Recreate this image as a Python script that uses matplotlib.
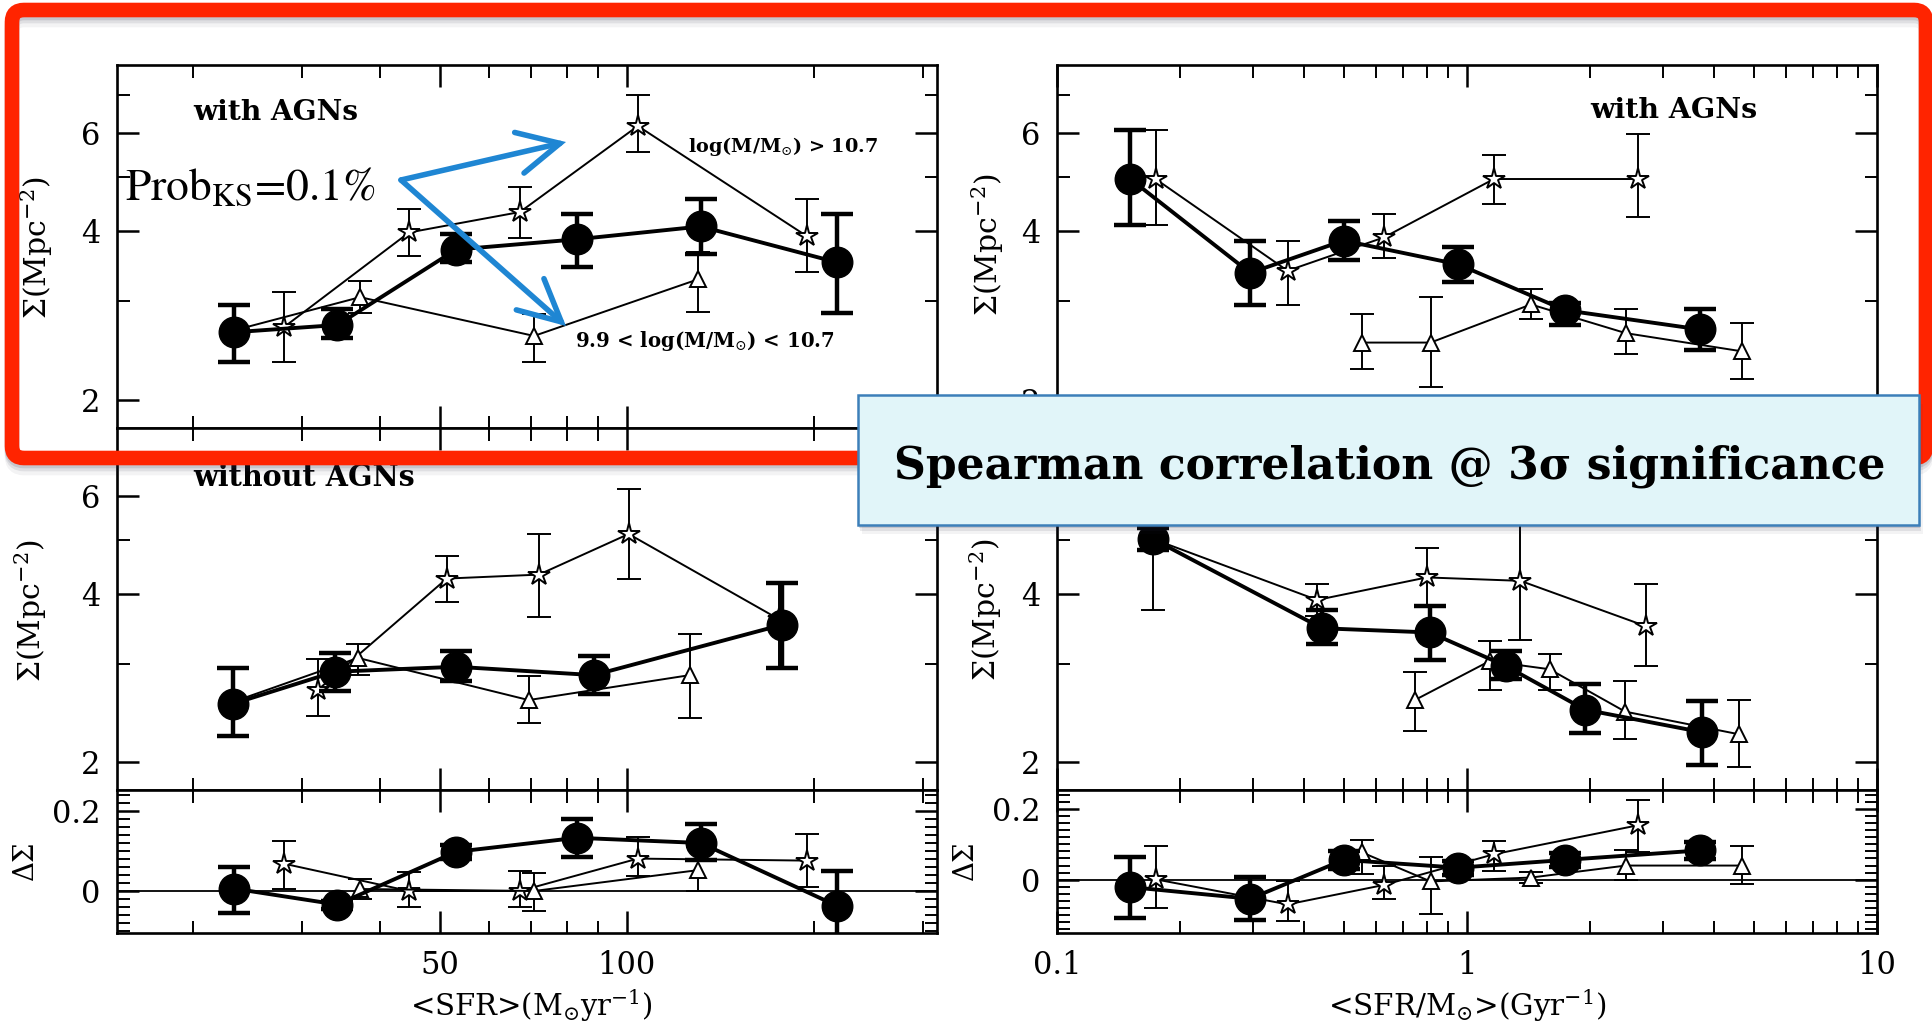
import numpy as np
import matplotlib
matplotlib.use('Agg')
import matplotlib.pyplot as plt
from matplotlib.ticker import FixedLocator, NullFormatter, FixedFormatter
from matplotlib.patches import FancyBboxPatch, FancyArrowPatch
from matplotlib.transforms import IdentityTransform

# ---------------- data: left column, <SFR> (Msun/yr) ----------------
# top panel: with AGNs
sfr_all_x = [23.3, 34.2, 53.1, 83.1, 131.6, 218.0]
sfr_all_y = [2.64, 2.72, 3.71, 3.87, 4.08, 3.52]
sfr_all_lo = [2.34, 2.58, 3.52, 3.46, 3.64, 2.86]
sfr_all_hi = [2.95, 2.90, 3.95, 4.30, 4.57, 4.30]

sfr_hi_x = [28.1, 44.6, 67.3, 104.2, 195.0]
sfr_hi_y = [2.70, 3.98, 4.33, 6.17, 3.92]
sfr_hi_lo = [2.34, 3.62, 3.89, 5.54, 3.38]
sfr_hi_hi = [3.11, 4.38, 4.80, 7.00, 4.57]

sfr_lo_x = [23.3, 37.2, 70.9, 130.0]
sfr_lo_y = [2.66, 3.05, 2.60, 3.28]
sfr_lo_lo = [2.66, 2.86, 2.34, 2.87]
sfr_lo_hi = [2.66, 3.26, 2.84, 3.67]

# middle panel: without AGNs
sfrn_all_x = [23.2, 33.9, 53.1, 88.5, 178.0]
sfrn_all_y = [2.54, 2.90, 2.96, 2.86, 3.52]
sfrn_all_lo = [2.22, 2.68, 2.79, 2.65, 2.94]
sfrn_all_hi = [2.94, 3.13, 3.16, 3.09, 4.18]

sfrn_hi_x = [31.8, 51.3, 72.2, 100.7, 176.0]
sfrn_hi_y = [2.69, 4.26, 4.33, 5.12, 3.60]
sfrn_hi_lo = [2.42, 3.86, 3.63, 4.26, 2.95]
sfrn_hi_hi = [3.06, 4.68, 5.13, 6.16, 4.18]

sfrn_lo_x = [23.2, 36.9, 69.5, 126.4]
sfrn_lo_y = [2.56, 3.07, 2.58, 2.86]
sfrn_lo_lo = [2.56, 2.86, 2.35, 2.40]
sfrn_lo_hi = [2.56, 3.25, 2.85, 3.39]

# bottom panel: Delta Sigma
dsfr_all_y = [0.006, -0.034, 0.098, 0.133, 0.120, -0.037]
dsfr_all_lo = [-0.055, -0.044, 0.080, 0.086, 0.078, -0.130]
dsfr_all_hi = [0.059, -0.024, 0.116, 0.179, 0.168, 0.050]
dsfr_hi_y = [0.068, 0.000, 0.000, 0.081, 0.076]
dsfr_hi_lo = [0.005, -0.039, -0.040, 0.038, 0.010]
dsfr_hi_hi = [0.126, 0.048, 0.050, 0.135, 0.143]
dsfr_lo_x = [37.2, 70.9, 130.0]
dsfr_lo_y = [0.005, 0.000, 0.052]
dsfr_lo_lo = [-0.020, -0.050, 0.000]
dsfr_lo_hi = [0.030, 0.045, 0.110]

# ---------------- data: right column, <SFR/M> (1/Gyr) ----------------
ssfr_all_x = [0.151, 0.296, 0.500, 0.953, 1.736, 3.71]
ssfr_all_y = [4.96, 3.37, 3.85, 3.49, 2.89, 2.67]
ssfr_all_lo = [4.10, 2.95, 3.56, 3.25, 2.72, 2.45]
ssfr_all_hi = [6.08, 3.84, 4.18, 3.75, 2.98, 2.91]

ssfr_hi_x = [0.174, 0.365, 0.627, 1.163, 2.61]
ssfr_hi_y = [4.96, 3.40, 3.90, 4.96, 4.96]
ssfr_hi_lo = [4.10, 2.95, 3.59, 4.48, 4.25]
ssfr_hi_hi = [6.08, 3.84, 4.29, 5.48, 5.97]

ssfr_lo_x = [0.555, 0.815, 1.432, 2.44, 4.69]
ssfr_lo_y = [2.53, 2.53, 2.96, 2.63, 2.44]
ssfr_lo_lo = [2.27, 2.11, 2.79, 2.41, 2.18]
ssfr_lo_hi = [2.84, 3.05, 3.16, 2.91, 2.74]

ssfrn_all_x = [0.171, 0.443, 0.812, 1.243, 1.94, 3.74]
ssfrn_all_y = [5.02, 3.47, 3.41, 2.97, 2.48, 2.26]
ssfrn_all_lo = [4.80, 3.25, 3.05, 2.82, 2.25, 1.97]
ssfrn_all_hi = [5.25, 3.74, 3.81, 3.16, 2.76, 2.57]

ssfrn_hi_x = [0.171, 0.431, 0.798, 1.35, 2.73]
ssfrn_hi_y = [5.02, 3.90, 4.28, 4.22, 3.50]
ssfrn_hi_lo = [3.74, 3.65, 3.79, 3.31, 2.97]
ssfrn_hi_hi = [6.30, 4.17, 4.84, 5.60, 4.17]

ssfrn_lo_x = [0.746, 1.135, 1.59, 2.43, 4.61]
ssfrn_lo_y = [2.58, 3.03, 2.93, 2.46, 2.24]
ssfrn_lo_lo = [2.27, 2.69, 2.69, 2.20, 1.96]
ssfrn_lo_hi = [2.90, 3.29, 3.12, 2.79, 2.58]

dssfr_all_y = [-0.021, -0.054, 0.056, 0.034, 0.056, 0.083]
dssfr_all_lo = [-0.109, -0.114, 0.030, 0.014, 0.036, 0.058]
dssfr_all_hi = [0.063, 0.009, 0.082, 0.054, 0.076, 0.108]
dssfr_hi_y = [0.001, -0.070, -0.015, 0.072, 0.154]
dssfr_hi_lo = [-0.079, -0.117, -0.054, 0.026, 0.077]
dssfr_hi_hi = [0.094, -0.005, 0.040, 0.110, 0.227]
dssfr_lo_y = [0.077, -0.005, 0.006, 0.040, 0.040]
dssfr_lo_lo = [0.017, -0.097, -0.009, -0.002, -0.013]
dssfr_lo_hi = [0.113, 0.063, 0.021, 0.083, 0.094]

# tick values / labels
sfr_major = [50, 100]
sfr_major_lab = ['50', '100']
sfr_minor = [20, 30, 40, 60, 70, 80, 90, 200, 300]
ssfr_major = [0.1, 1, 10]
ssfr_major_lab = ['0.1', '1', '10']
ssfr_minor = [0.2, 0.3, 0.4, 0.5, 0.6, 0.7, 0.8, 0.9, 2, 3, 4, 5, 6, 7, 8, 9]
sig_major = [2, 4, 6]
sig_major_lab = ['2', '4', '6']
sig_minor = [3, 5, 7]
d_major = [0, 0.2]
d_major_lab = ['0', '0.2']
d_minor = [-0.14, -0.12, -0.10, -0.08, -0.06, -0.04, -0.02, 0.02, 0.04, 0.06,
           0.08, 0.10, 0.12, 0.14, 0.16, 0.18, 0.22, 0.24]

# ---------------- figure ----------------
W, H = 1933, 1030
plt.rcParams['font.family'] = ['DejaVu Serif']
plt.rcParams['mathtext.fontset'] = 'dejavuserif'
fig = plt.figure(figsize=(W / 100, H / 100), dpi=100)
fig.patch.set_facecolor('white')


def ax_px(x0, y0, x1, y1):
    return fig.add_axes([x0 / W, 1 - y1 / H, (x1 - x0) / W, (y1 - y0) / H])


def style(ax, xlim, xmaj, xlab, xmin, ylim, ymaj, ylab, ymin, ylog, xlabels):
    ax.set_xscale('log')
    if ylog:
        ax.set_yscale('log')
    ax.set_xlim(*xlim)
    ax.set_ylim(*ylim)
    ax.xaxis.set_major_locator(FixedLocator(xmaj))
    ax.xaxis.set_major_formatter(FixedFormatter(xlab))
    ax.xaxis.set_minor_locator(FixedLocator(xmin))
    ax.xaxis.set_minor_formatter(NullFormatter())
    ax.yaxis.set_major_locator(FixedLocator(ymaj))
    ax.yaxis.set_major_formatter(FixedFormatter(ylab))
    ax.yaxis.set_minor_locator(FixedLocator(ymin))
    ax.yaxis.set_minor_formatter(NullFormatter())
    ax.tick_params(which='both', direction='in', top=True, right=True,
                   labelsize=22, colors='k')
    ax.tick_params(which='major', length=16, width=1.8, pad=12)
    ax.tick_params(which='minor', length=9, width=1.4)
    ax.tick_params(axis='x', labelbottom=xlabels)
    for s in ax.spines.values():
        s.set_linewidth(1.9)


def series(ax, x, y, lo, hi, kind):
    x = np.asarray(x, float)
    y = np.asarray(y, float)
    yerr = np.vstack([y - np.asarray(lo, float), np.asarray(hi, float) - y])
    if kind == 'c':
        ax.errorbar(x, y, yerr=yerr, fmt='-o', color='k', lw=2.8, ms=22,
                    mfc='k', mec='k', elinewidth=3.2, capsize=11.5,
                    capthick=3.2, zorder=5)
    elif kind == 's':
        ax.errorbar(x, y, yerr=yerr, fmt='-*', color='k', lw=1.4, ms=16,
                    mfc='white', mec='k', mew=1.4, elinewidth=1.4,
                    capsize=8.5, capthick=1.4, zorder=3)
    else:
        ax.errorbar(x, y, yerr=yerr, fmt='-^', color='k', lw=1.4, ms=12,
                    mfc='white', mec='k', mew=1.4, elinewidth=1.4,
                    capsize=8.5, capthick=1.4, zorder=3)


SIG_LIM = (1.78, 7.93)
L0, L1 = 117, 937
R0, R1 = 1057, 1877
Y0, Y1, Y2, Y3 = 65, 428, 790, 933

# left column
axA = ax_px(L0, Y0, L1, Y1)
style(axA, (15.1, 316), sfr_major, sfr_major_lab, sfr_minor, SIG_LIM,
      sig_major, sig_major_lab, sig_minor, True, False)
series(axA, sfr_all_x, sfr_all_y, sfr_all_lo, sfr_all_hi, 'c')
series(axA, sfr_hi_x, sfr_hi_y, sfr_hi_lo, sfr_hi_hi, 's')
series(axA, sfr_lo_x, sfr_lo_y, sfr_lo_lo, sfr_lo_hi, 't')

axB = ax_px(L0, Y1, L1, Y2)
style(axB, (15.1, 316), sfr_major, sfr_major_lab, sfr_minor, SIG_LIM,
      sig_major, sig_major_lab, sig_minor, True, False)
series(axB, sfrn_all_x, sfrn_all_y, sfrn_all_lo, sfrn_all_hi, 'c')
series(axB, sfrn_hi_x, sfrn_hi_y, sfrn_hi_lo, sfrn_hi_hi, 's')
series(axB, sfrn_lo_x, sfrn_lo_y, sfrn_lo_lo, sfrn_lo_hi, 't')

axC = ax_px(L0, Y2, L1, Y3)
style(axC, (15.1, 316), sfr_major, sfr_major_lab, sfr_minor, (-0.105, 0.2525),
      d_major, d_major_lab, d_minor, False, True)
axC.axhline(0, color='k', lw=1.3, zorder=1)
series(axC, sfr_all_x, dsfr_all_y, dsfr_all_lo, dsfr_all_hi, 'c')
series(axC, sfr_hi_x, dsfr_hi_y, dsfr_hi_lo, dsfr_hi_hi, 's')
series(axC, dsfr_lo_x, dsfr_lo_y, dsfr_lo_lo, dsfr_lo_hi, 't')

# right column
axD = ax_px(R0, Y0, R1, Y1)
style(axD, (0.1, 10), ssfr_major, ssfr_major_lab, ssfr_minor, SIG_LIM,
      sig_major, sig_major_lab, sig_minor, True, False)
series(axD, ssfr_all_x, ssfr_all_y, ssfr_all_lo, ssfr_all_hi, 'c')
series(axD, ssfr_hi_x, ssfr_hi_y, ssfr_hi_lo, ssfr_hi_hi, 's')
series(axD, ssfr_lo_x, ssfr_lo_y, ssfr_lo_lo, ssfr_lo_hi, 't')

axE = ax_px(R0, Y1, R1, Y2)
style(axE, (0.1, 10), ssfr_major, ssfr_major_lab, ssfr_minor, SIG_LIM,
      sig_major, sig_major_lab, sig_minor, True, False)
series(axE, ssfrn_all_x, ssfrn_all_y, ssfrn_all_lo, ssfrn_all_hi, 'c')
series(axE, ssfrn_hi_x, ssfrn_hi_y, ssfrn_hi_lo, ssfrn_hi_hi, 's')
series(axE, ssfrn_lo_x, ssfrn_lo_y, ssfrn_lo_lo, ssfrn_lo_hi, 't')

axF = ax_px(R0, Y2, R1, Y3)
style(axF, (0.1, 10), ssfr_major, ssfr_major_lab, ssfr_minor, (-0.151, 0.254),
      d_major, d_major_lab, d_minor, False, True)
axF.axhline(0, color='k', lw=1.3, zorder=1)
series(axF, ssfr_all_x, dssfr_all_y, dssfr_all_lo, dssfr_all_hi, 'c')
series(axF, ssfr_hi_x, dssfr_hi_y, dssfr_hi_lo, dssfr_hi_hi, 's')
series(axF, ssfr_lo_x, dssfr_lo_y, dssfr_lo_lo, dssfr_lo_hi, 't')

# ---------------- texts ----------------
renderer = fig.canvas.get_renderer()


def ptext(x, y, s, target_w=None, **kw):
    t = fig.text(x / W, 1 - y / H, s, **kw)
    if target_w is not None:
        rot = t.get_rotation()
        t.set_rotation(0)
        bb = t.get_window_extent(renderer)
        t.set_fontsize(t.get_fontsize() * target_w / bb.width)
        t.set_rotation(rot)
    return t


ptext(193, 113, 'with AGNs', 165, fontsize=18, fontweight='bold',
      ha='left', va='center', zorder=6)
ptext(1590, 111, 'with AGNs', 167, fontsize=18, fontweight='bold',
      ha='left', va='center', zorder=6)
ptext(193, 477, 'without AGNs', 222, fontsize=18, fontweight='bold',
      ha='left', va='center', zorder=6)
ptext(688, 146, r'log(M/M$_{\odot}$) > 10.7', 190, fontsize=13,
      fontweight='bold', ha='left', va='center', zorder=6)
ptext(575, 341, r'9.9 < log(M/M$_{\odot}$) < 10.7', 260, fontsize=13,
      fontweight='bold', ha='left', va='center', zorder=6)

ptext(531, 1006, r'<SFR>(M$_{\odot}$yr$^{-1}$)', 243, fontsize=19,
      ha='center', va='center')
ptext(1467, 1006, r'<SFR/M$_{\odot}$>(Gyr$^{-1}$)', 279, fontsize=19,
      ha='center', va='center')
for (xx, yy) in [(37, 248), (31, 611), (988, 245), (986, 610)]:
    ptext(xx, yy, r'$\Sigma$(Mpc$^{-2}$)', 143, fontsize=17, rotation=90,
          ha='center', va='center')
for (xx, yy) in [(27, 862), (967, 862)]:
    ptext(xx, yy, r'$\Delta\Sigma$', 40, fontsize=17, rotation=90,
          ha='center', va='center')

# ---------------- overlays ----------------
ident = IdentityTransform()
RED = '#FF2400'

# red frame shadow + frame
for off, al in [(10, 0.06), (6, 0.10), (3, 0.14)]:
    sh = FancyBboxPatch((12, H - 458 - off), 1914, 448,
                        boxstyle='round,pad=0,rounding_size=12',
                        transform=ident, fill=False, lw=10.5,
                        ec=(0.2, 0.2, 0.3, al), zorder=20)
    fig.add_artist(sh)
frame = FancyBboxPatch((12, H - 458), 1914, 448,
                       boxstyle='round,pad=0,rounding_size=12',
                       transform=ident, fill=False, lw=10.5, ec=RED, zorder=21)
fig.add_artist(frame)

# blue box
for off, al in [(9, 0.06), (6, 0.10), (3, 0.16)]:
    sh = FancyBboxPatch((858 + off * 0.4, H - 525 - off), 1061, 130,
                        boxstyle='square,pad=0', transform=ident,
                        fc=(0.2, 0.2, 0.3, al), ec='none', zorder=22)
    fig.add_artist(sh)
box = FancyBboxPatch((858, H - 525), 1061, 130, boxstyle='square,pad=0',
                     transform=ident, fc='#E1F5F9', ec='#3C7FB9', lw=1.8,
                     zorder=23)
fig.add_artist(box)
ptext(1390, 466, 'Spearman correlation @ 3σ significance', 992, fontsize=30,
      fontweight='bold', ha='center', va='center', zorder=24)

# KS probability text and arrows
ptext(125, 200, r'Prob$_{\mathrm{KS}}$=0.1%', 251, fontsize=34,
      family='STIXGeneral', math_fontfamily='stix', ha='left',
      va='baseline', zorder=24)

BLUE = '#1F86D3'
for (tx, ty) in [(566, 142), (566, 326)]:
    ar = FancyArrowPatch((401, H - 180), (tx, H - ty), transform=ident,
                         arrowstyle='->,head_length=1.0,head_width=0.5',
                         mutation_scale=30, lw=4.0, color=BLUE, zorder=24,
                         shrinkA=0, shrinkB=0, joinstyle='miter',
                         capstyle='round')
    fig.add_artist(ar)

fig.savefig('out.png', dpi=100, facecolor='white')
